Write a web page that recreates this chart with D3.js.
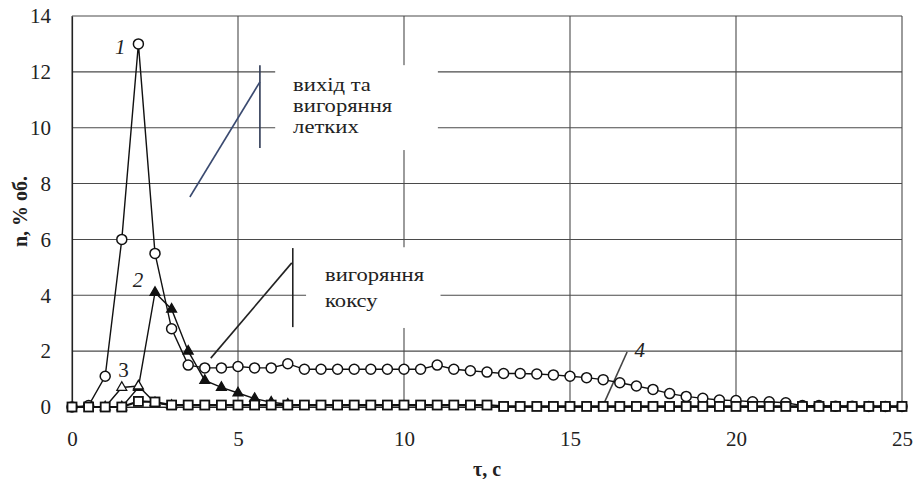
<!DOCTYPE html>
<html><head><meta charset="utf-8">
<script src="https://cdn.jsdelivr.net/npm/d3@7/dist/d3.min.js"></script>
<style>
html,body{margin:0;padding:0;background:#fff;}
svg{display:block;font-family:"Liberation Serif","Times New Roman",serif;}
</style></head>
<body>
<svg id="c" width="914" height="479"></svg>
<script>
// ---- data ----
const xTicks = [0, 5, 10, 15, 20, 25];
const yTicks = [0, 2, 4, 6, 8, 10, 12, 14];
const xLabel = "τ, с";
const yLabel = "n, % об.";

// series 1: open circles (x step 0.5 from 0 to 25)
const s1x = d3.range(0, 25.01, 0.5);
const s1y = [0, 0.05, 1.1, 6.0, 13.0, 5.5, 2.8, 1.5, 1.4, 1.4,
             1.45, 1.4, 1.4, 1.55, 1.35, 1.35, 1.35, 1.35, 1.35, 1.35,
             1.35, 1.35, 1.5, 1.35, 1.3, 1.25, 1.2, 1.2, 1.18, 1.15,
             1.1, 1.05, 0.98, 0.87, 0.75, 0.63, 0.48, 0.38, 0.31, 0.25,
             0.23, 0.19, 0.19, 0.15, 0.05, 0.05, 0.03, 0.03, 0.02, 0.02, 0.02];
// series 2: filled triangles
const s2x = [1.5, 2.0, 2.5, 3.0, 3.5, 4.0, 4.5, 5.0, 5.5, 6.0, 6.5];
const s2y = [0, 0.7, 4.1, 3.5, 2.0, 0.95, 0.7, 0.5, 0.3, 0.17, 0.1];
// series 3: open triangles
const s3x = [1.0, 1.5, 2.0, 2.5, 3.0];
const s3y = [0, 0.7, 0.75, 0.15, 0.05];
// series 4: open squares
const s4x = d3.range(0, 25.01, 0.5);
const s4y = [0, 0, 0, 0, 0.2, 0.18, 0.07, 0.07, 0.07, 0.07,
             0.07, 0.07, 0.07, 0.07, 0.07, 0.07, 0.07, 0.07, 0.07, 0.07,
             0.07, 0.07, 0.07, 0.07, 0.07, 0.07, 0.02, 0.02, 0.02, 0.02,
             0.02, 0.02, 0.02, 0.02, 0.02, 0.02, 0.02, 0.02, 0.02, 0.02,
             0.02, 0.02, 0.02, 0.02, 0.02, 0.02, 0.02, 0.02, 0.02, 0.02, 0.02];

// annotation texts and curve numbers
const noteTop = ["вихід та", "вигоряння", "летких"];
const noteBottom = ["вигоряння", "коксу"];
const curveNames = ["1", "2", "3", "4"];

// ---- layout ----
const FONT = "Liberation Serif";
const svg = d3.select("#c");
const x = d3.scaleLinear().domain([0, 25]).range([72, 902]);
const y = d3.scaleLinear().domain([0, 14]).range([407, 16]);
const gridColor = "#4a4a4a";

// gridlines
svg.append("g").selectAll("line").data(yTicks).join("line")
  .attr("x1", x(0)).attr("x2", x(25))
  .attr("y1", d => y(d)).attr("y2", d => y(d))
  .attr("stroke", gridColor).attr("stroke-width", 1.1);
svg.append("g").selectAll("line").data(xTicks).join("line")
  .attr("x1", d => x(d)).attr("x2", d => x(d))
  .attr("y1", y(0)).attr("y2", y(14))
  .attr("stroke", gridColor).attr("stroke-width", 1.1);

// axes
const ya = svg.append("g").attr("transform", `translate(${x(0)},0)`)
  .call(d3.axisLeft(y).tickValues(yTicks).tickSize(0).tickPadding(21));
const xa = svg.append("g").attr("transform", `translate(0,${y(0)})`)
  .call(d3.axisBottom(x).tickValues(xTicks).tickSize(0).tickPadding(24));
[ya, xa].forEach(a => {
  a.attr("font-family", FONT);
  a.select(".domain").attr("stroke", "#222").attr("stroke-width", 1.2);
  a.selectAll("text").attr("font-family", FONT).attr("font-size", 21).attr("fill", "#222");
});

// axis titles
svg.append("text").attr("x", (x(0) + x(25)) / 2).attr("y", 476)
  .attr("font-family", FONT)
  .attr("text-anchor", "middle").attr("font-weight", "bold").attr("font-size", 20)
  .attr("fill", "#222").text(xLabel);
svg.append("text").attr("transform", `translate(27,${(y(0) + y(14)) / 2}) rotate(-90)`)
  .attr("font-family", FONT)
  .attr("text-anchor", "middle").attr("font-weight", "bold").attr("font-size", 20)
  .attr("fill", "#222").text(yLabel);

// annotation boxes (white background covering grid)
const boxes = [
  {x0: 6.12, x1: 11.02, y0: 12.24, y1: 9.2},
  {x0: 7.05, x1: 11.1, y0: 5.72, y1: 2.83}
];
svg.append("g").selectAll("rect").data(boxes).join("rect")
  .attr("x", d => x(d.x0)).attr("y", d => y(d.y0))
  .attr("width", d => x(d.x1) - x(d.x0)).attr("height", d => y(d.y1) - y(d.y0))
  .attr("fill", "#fff");

// leader lines
const leaders = [
  {x1: 5.66, y1: 12.24, x2: 5.66, y2: 9.27, c: "#2f3a55"},
  {x1: 3.55, y1: 7.52, x2: 5.66, y2: 11.64, c: "#3a4a70"},
  {x1: 6.65, y1: 5.69, x2: 6.65, y2: 2.86, c: "#222"},
  {x1: 4.18, y1: 1.75, x2: 6.62, y2: 5.16, c: "#222"},
  {x1: 16.72, y1: 1.97, x2: 15.99, y2: 0.04, c: "#444"}
];
svg.append("g").selectAll("line").data(leaders).join("line")
  .attr("x1", d => x(d.x1)).attr("y1", d => y(d.y1))
  .attr("x2", d => x(d.x2)).attr("y2", d => y(d.y2))
  .attr("stroke", d => d.c).attr("stroke-width", 1.6);

// annotation text (slightly widened serif, like the reference)
function note(lines, ax, ay, gap) {
  const g = svg.append("g")
    .attr("transform", `translate(${x(ax)},${y(ay)}) scale(1.16,1)`);
  lines.forEach((s, i) => g.append("text")
    .attr("x", 0).attr("y", i * gap)
    .attr("font-family", FONT).attr("font-size", 19.5).attr("fill", "#222")
    .text(s));
}
note(noteTop, 6.66, 11.31, 21);
note(noteBottom, 7.62, 4.5, 26);

// series
const line = d3.line().x(d => x(d[0])).y(d => y(d[1]));
function pts(xs, ys) { return xs.map((v, i) => [v, ys[i]]); }
const p1 = pts(s1x, s1y), p2 = pts(s2x, s2y), p3 = pts(s3x, s3y), p4 = pts(s4x, s4y);

function drawLine(p, w) {
  svg.append("path").datum(p).attr("d", line).attr("fill", "none")
    .attr("stroke", "#111").attr("stroke-width", w);
}
drawLine(p1, 1.4);
drawLine(p3, 1.4);
drawLine(p2, 1.4);
drawLine(p4, 2.2);

const tri = d3.symbol().type(d3.symbolTriangle).size(42);
svg.append("g").selectAll("path").data(p2).join("path")
  .attr("d", tri).attr("transform", d => `translate(${x(d[0])},${y(d[1])})`)
  .attr("fill", "#111").attr("stroke", "#111").attr("stroke-width", 1.3);
svg.append("g").selectAll("path").data(p3).join("path")
  .attr("d", tri).attr("transform", d => `translate(${x(d[0])},${y(d[1])})`)
  .attr("fill", "#fff").attr("stroke", "#111").attr("stroke-width", 1.3);
svg.append("g").selectAll("circle").data(p1).join("circle")
  .attr("cx", d => x(d[0])).attr("cy", d => y(d[1])).attr("r", 5)
  .attr("fill", "#fff").attr("stroke", "#111").attr("stroke-width", 1.5);
svg.append("g").selectAll("rect").data(p4).join("rect")
  .attr("x", d => x(d[0]) - 4.5).attr("y", d => y(d[1]) - 4.5)
  .attr("width", 9).attr("height", 9)
  .attr("fill", "#fff").attr("stroke", "#111").attr("stroke-width", 1.8);

// curve numbers
const nums = [
  {t: curveNames[0], x: 1.45, y: 12.89, it: true},
  {t: curveNames[1], x: 1.99, y: 4.55, it: true},
  {t: curveNames[2], x: 1.55, y: 1.32, it: false},
  {t: curveNames[3], x: 17.1, y: 2.05, it: true}
];
svg.append("g").selectAll("text").data(nums).join("text")
  .attr("x", d => x(d.x)).attr("y", d => y(d.y)).attr("dy", "0.35em")
  .attr("font-family", FONT)
  .attr("text-anchor", "middle").attr("font-size", 21)
  .attr("font-style", d => d.it ? "italic" : "normal")
  .attr("fill", "#222").text(d => d.t);
</script>
</body></html>
